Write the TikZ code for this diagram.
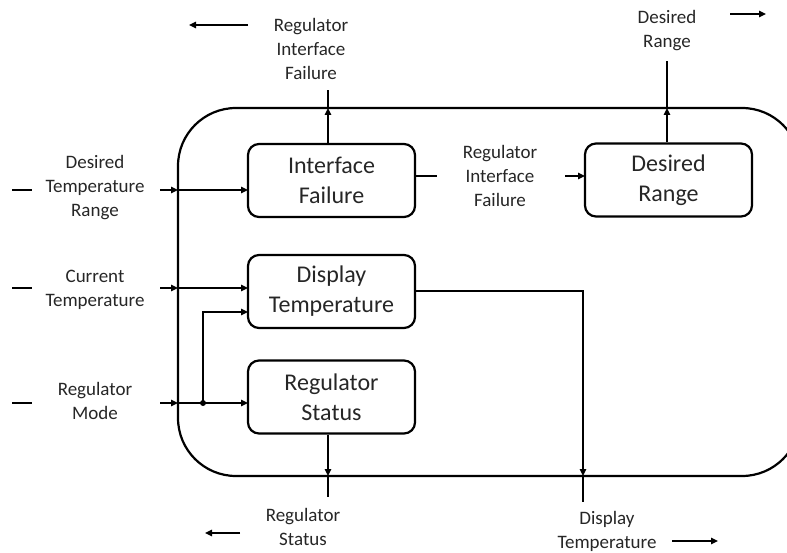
\documentclass[tikz,border=0pt]{standalone}
\usepackage{fontspec}
\setmainfont{Carlito}
\usetikzlibrary{arrows.meta}
\begin{document}
\begin{tikzpicture}[x=1pt,y=-1pt,
 lbl/.style={font=\fontsize{19}{24}\selectfont, align=center, text=black!85, inner sep=0pt},
 blk/.style={draw, line width=2.2pt, rounded corners=11pt, minimum width=167pt, minimum height=73pt, font=\fontsize{24}{30}\selectfont, align=center, inner sep=0pt, text=black!85},
 wire/.style={line width=1.4pt},
 arr/.style={wire, -{Triangle[length=7pt,width=6.5pt]}},
]
\useasboundingbox (0,0) rectangle (787,553);
\clip (0,0) rectangle (787,553);
\draw[line width=2.2pt, rounded corners=58pt] (178,108) rectangle (800,476);

% blocks
\node[blk] (IF) at (331.5,180.5) {Interface\\Failure};
\node[blk] (DT) at (331.5,291.5) {Display\\Temperature};
\node[blk] (RS) at (331.5,397) {Regulator\\Status};
\node[blk] (DR) at (668.5,180) {Desired\\Range};

% labels
\node[lbl] (lDTR) at (95,188) {Desired\\Temperature\\Range};
\node[lbl] (lCT) at (95,290) {Current\\Temperature};
\node[lbl] (lRM) at (95,401) {Regulator\\Mode};
\node[lbl] (lRIF) at (311,49) {Regulator\\Interface\\Failure};
\node[lbl] (lDRo) at (667,31) {Desired\\Range};
\node[lbl] (lRIFm) at (500,176) {Regulator\\Interface\\Failure};
\node[lbl] (lRSo) at (303,527) {Regulator\\Status};
\node[lbl] (lDTo) at (607,531) {Display\\Temperature};

% dashes at left
\draw[wire] (12,190) -- (32,190);
\draw[wire] (12,288) -- (32,288);
\draw[wire] (12,403) -- (32,403);

% decorative direction arrows
\draw[arr] (248,25) -- (189,25);
\draw[arr] (730,14) -- (766,14);
\draw[arr] (240,533) -- (205,533);
\draw[arr] (672,541) -- (718,541);

% inputs
\coordinate (s1) at (160,190); \coordinate (b1) at (178,190); \coordinate (e1) at (248,190);
\coordinate (s2) at (160,288); \coordinate (b2) at (178,288); \coordinate (e2) at (248,288);
\coordinate (s3) at (160,403); \coordinate (b3) at (178,403); \coordinate (e3) at (248,403);
\coordinate (j) at (203,403); \coordinate (e4) at (248,312);
\draw[arr] (s1) -- (b1); \draw[arr] (b1) -- (e1);
\draw[arr] (s2) -- (b2); \draw[arr] (b2) -- (e2);
\draw[arr] (s3) -- (b3); \draw[arr] (b3) -- (e3);
\draw[arr] (j) |- (e4);
\fill (j) circle (3pt);

% top outputs
\coordinate (t1) at (328,108); \coordinate (t1e) at (328,90);
\draw[arr] (IF.north -| t1) -- (t1); \draw[wire] (t1) -- (t1e);
\coordinate (t2) at (667,108); \coordinate (t2e) at (667,61);
\draw[arr] (DR.north -| t2) -- (t2); \draw[wire] (t2) -- (t2e);

% middle flow
\coordinate (m0) at (415,176); \coordinate (m1) at (437,176); \coordinate (m2) at (565,176); \coordinate (m3) at (585,176);
\draw[wire] (m0) -- (m1);
\draw[arr] (m2) -- (m3);

% bottom outputs
\coordinate (d0) at (415,291); \coordinate (b4) at (583,476); \coordinate (b4e) at (583,502);
\draw[arr] (d0) -| (b4); \draw[wire] (b4) -- (b4e);
\coordinate (b5) at (328,476); \coordinate (b5e) at (328,497);
\draw[arr] (RS.south -| b5) -- (b5); \draw[wire] (b5) -- (b5e);
\end{tikzpicture}
\end{document}
